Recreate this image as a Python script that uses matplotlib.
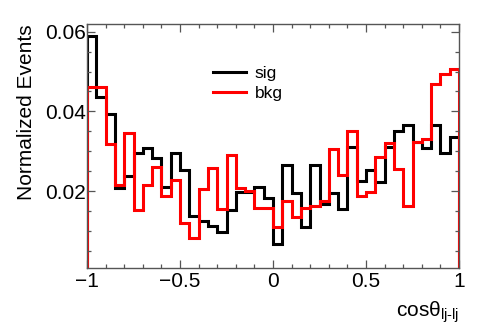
import numpy as np
import matplotlib
matplotlib.use("Agg")
import matplotlib.pyplot as plt
from matplotlib.ticker import MultipleLocator

plt.rcParams['font.family'] = ['Liberation Sans', 'DejaVu Sans']
plt.rcParams['mathtext.fontset'] = 'custom'
plt.rcParams['mathtext.rm'] = 'Liberation Sans'
plt.rcParams['mathtext.it'] = 'Liberation Sans:italic'

# 40 bins in cos(theta) from -1 to 1
bordes = np.linspace(-1, 1, 41)

sig = [0.0590, 0.0436, 0.0393, 0.0208, 0.0238, 0.0295, 0.0308, 0.0282, 0.0211, 0.0295,
       0.0252, 0.0139, 0.0125, 0.0112, 0.0097, 0.0152, 0.0197, 0.0197, 0.0211, 0.0182,
       0.0068, 0.0266, 0.0196, 0.0110, 0.0266, 0.0168, 0.0196, 0.0155, 0.0310, 0.0225,
       0.0253, 0.0224, 0.0310, 0.0350, 0.0365, 0.0323, 0.0308, 0.0365, 0.0296, 0.0337]

bkg = [0.0460, 0.0460, 0.0319, 0.0216, 0.0345, 0.0154, 0.0216, 0.0260, 0.0188, 0.0229,
       0.0121, 0.0083, 0.0206, 0.0257, 0.0155, 0.0290, 0.0207, 0.0201, 0.0159, 0.0159,
       0.0111, 0.0175, 0.0136, 0.0157, 0.0163, 0.0176, 0.0306, 0.0240, 0.0352, 0.0189,
       0.0198, 0.0286, 0.0320, 0.0255, 0.0163, 0.0324, 0.0331, 0.0469, 0.0493, 0.0506]

fig = plt.figure(figsize=(4.84, 3.27), dpi=100)
ax = fig.add_axes([0.1798, 0.181, 0.7686, 0.7455])

ax.stairs(sig, bordes, baseline=0, color='black', linewidth=2.2, label='sig')
ax.stairs(bkg, bordes, baseline=0, color='#ff0000', linewidth=2.2, label='bkg')

ax.set_xlim(-1, 1)
ax.set_ylim(0.0008, 0.0619)

ax.xaxis.set_major_locator(MultipleLocator(0.5))
ax.xaxis.set_minor_locator(MultipleLocator(0.1))
ax.yaxis.set_major_locator(MultipleLocator(0.02))
ax.yaxis.set_minor_locator(MultipleLocator(0.005))
ax.xaxis.set_major_formatter(plt.FuncFormatter(lambda v, p: ('%g' % v).replace('-', '\u2212')))
ax.yaxis.set_major_formatter(plt.FuncFormatter(lambda v, p: '%.2f' % v))

ax.tick_params(which='both', direction='in', top=True, right=True, color='#555555')
ax.tick_params(which='major', length=6, width=0.9, labelsize=15)
ax.tick_params(which='minor', length=3.2, width=0.9)
ax.tick_params(axis='x', pad=3)
ax.tick_params(axis='y', pad=1)
for s in ax.spines.values():
    s.set_color('#555555')
    s.set_linewidth(1.0)

ax.set_ylabel('Normalized Events', fontsize=15, loc='top')
ax.yaxis.set_label_coords(-0.137, 1.0)
ax.set_xlabel(r'cos$\mathregular{\theta_{lj\text{-}lj}}$', fontsize=15, loc='right')
ax.xaxis.set_label_coords(1.0, -0.132)

ax.legend(loc='upper left', bbox_to_anchor=(0.315, 0.865), frameon=False, fontsize=12.5,
          handlelength=1.9, handletextpad=0.5, labelspacing=0.3, borderpad=0)

fig.savefig('out.png', dpi=100)
